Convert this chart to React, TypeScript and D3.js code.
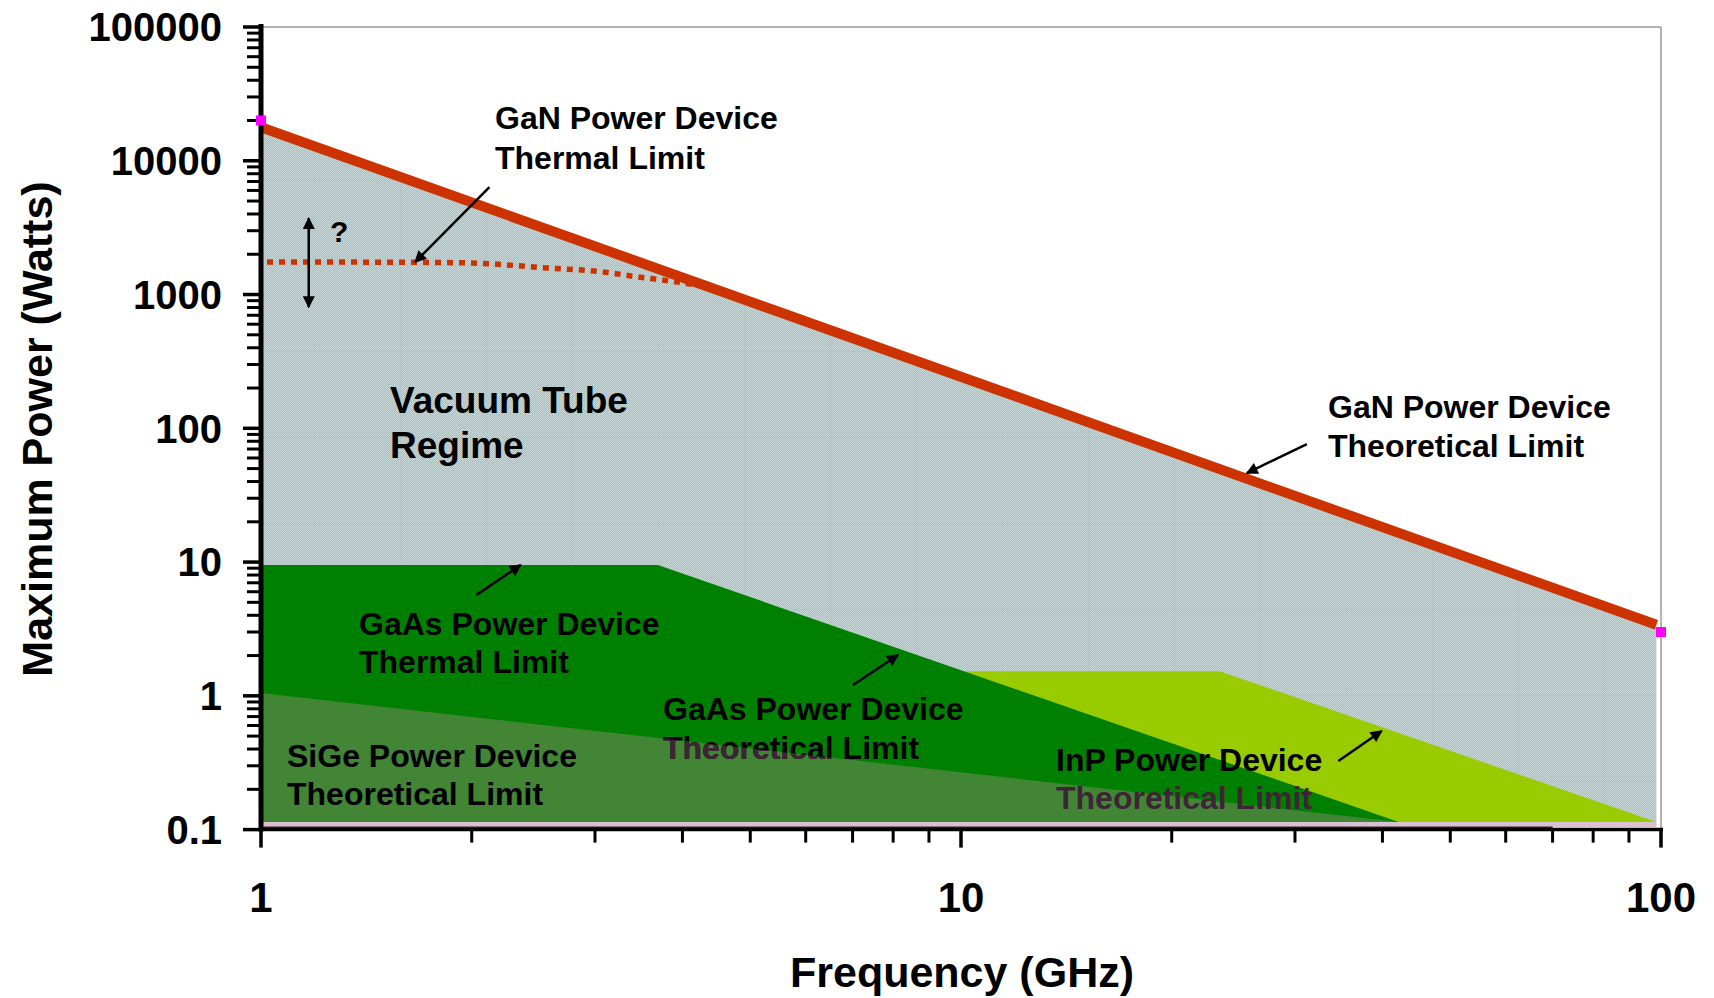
import React from 'react';
import * as d3 from 'd3';

// ---------- data (frequency in GHz, power in W) ----------
const ganTheoreticalF = [1, 98.5];
const ganTheoreticalP = [17800, 3.4];

const ganThermalF = [1.02, 1.3, 1.66, 2.0, 2.56, 3.1, 3.4, 3.94, 4.3];
const ganThermalP = [1750, 1748, 1742, 1720, 1580, 1470, 1370, 1240, 1150];

const gaasF = [1, 3.69, 42.2];
const gaasP = [9.5, 9.5, 0.114];

const inpF = [10, 23.4, 98.5];
const inpP = [1.53, 1.53, 0.114];

const sigeF = [1, 42.2];
const sigeP = [1.05, 0.114];

const floorP = 0.114;

const markerF = [1, 100];
const markerP = [20000, 3.0];

const yTickValues = [0.1, 1, 10, 100, 1000, 10000, 100000];
const yTickLabels = ['0.1', '1', '10', '100', '1000', '10000', '100000'];
const xTickValues = [1, 10, 100];
const xTickLabels = ['1', '10', '100'];

// annotation arrows: [fromF, fromP, toF, toP]
const arrowsData: number[][] = [
  [2.12, 6350, 1.66, 1746],
  [31.2, 76.2, 25.6, 46.2],
  [2.03, 5.66, 2.35, 9.5],
  [7.01, 1.204, 8.13, 2.02],
  [34.6, 0.326, 39.9, 0.546],
];
const doubleArrow = [1.17, 3725, 805];

// ---------- layout ----------
const W = 1714;
const H = 998;
const x = d3.scaleLog().domain([1, 100]).range([261, 1661]);
const y = d3.scaleLog().domain([0.1, 100000]).range([829.6, 27]);

const FONT = '"Liberation Sans", Arial, Helvetica, sans-serif';

type Lbl = { lines: string[]; x: number; y: number; size: number; lh: number; color2?: string; clip2?: boolean };
const labels: Lbl[] = [
  { lines: ['GaN Power Device', 'Thermal Limit'], x: 495, y: 129, size: 32, lh: 40 },
  { lines: ['GaN Power Device', 'Theoretical Limit'], x: 1328, y: 418, size: 32, lh: 39 },
  { lines: ['Vacuum Tube', 'Regime'], x: 390, y: 413, size: 37, lh: 45 },
  { lines: ['GaAs Power Device', 'Thermal Limit'], x: 359, y: 635, size: 32, lh: 38 },
  { lines: ['SiGe Power Device', 'Theoretical Limit'], x: 287, y: 767, size: 32, lh: 38 },
  { lines: ['GaAs Power Device', 'Theoretical Limit'], x: 663, y: 720, size: 32, lh: 39, clip2: true },
  { lines: ['InP Power Device', 'Theoretical Limit'], x: 1056, y: 771, size: 32, lh: 38, color2: '#3d2535' },
];

function polyPath(fs: number[], ps: number[], base: number) {
  const pts: [number, number][] = fs.map((f, i) => [x(f), y(ps[i])]);
  pts.push([x(fs[fs.length - 1]), y(base)]);
  pts.push([x(fs[0]), y(base)]);
  return 'M' + pts.map((p) => p.join(',')).join('L') + 'Z';
}

export default function App() {
  const grayPath = polyPath(ganTheoreticalF, ganTheoreticalP, floorP);
  const gaasPath = polyPath(gaasF, gaasP, floorP);
  const inpPath = polyPath(inpF, inpP, floorP);
  const sigePath = polyPath(sigeF, sigeP, floorP);

  const line = d3
    .line<[number, number]>()
    .x((d) => x(d[0]))
    .y((d) => y(d[1]));
  const ganLine = line(ganTheoreticalF.map((f, i) => [f, ganTheoreticalP[i]]) as [number, number][]) || '';
  const thermalLine =
    line.curve(d3.curveMonotoneX)(ganThermalF.map((f, i) => [f, ganThermalP[i]]) as [number, number][]) || '';

  const yMinor: number[] = [];
  [0.1, 1, 10, 100, 1000, 10000].forEach((d) => {
    for (let m = 2; m <= 9; m++) yMinor.push(d * m);
  });
  const xMinor: number[] = [];
  [1, 10].forEach((d) => {
    for (let m = 2; m <= 9; m++) xMinor.push(d * m);
  });

  const axisY = y(0.1);
  const axisX = x(1);

  return (
    <svg
      width={W}
      height={H}
      style={{ position: 'absolute', left: 0, top: 0, background: '#fff' }}
      fontFamily={FONT}
    >
      <defs>
        <pattern id="chk" width={2} height={2} patternUnits="userSpaceOnUse">
          <rect width={2} height={2} fill="#c6d5d5" />
          <rect width={1} height={1} fill="#a8c1c3" />
          <rect x={1} y={1} width={1} height={1} fill="#a8c1c3" />
        </pattern>
        <pattern id="grid" width={86} height={86} patternUnits="userSpaceOnUse" x={56} y={7}>
          <rect width={86} height={86} fill="url(#chk)" />
          <rect width={86} height={1} fill="#aebfbf" opacity={0.5} />
          <rect width={1} height={86} fill="#aebfbf" opacity={0.5} />
        </pattern>
        <pattern id="pink" width={2} height={2} patternUnits="userSpaceOnUse">
          <rect width={2} height={2} fill="#e0ccda" />
          <rect width={1} height={1} fill="#cdb6c6" />
          <rect x={1} y={1} width={1} height={1} fill="#cdb6c6" />
        </pattern>
        <clipPath id="sigeClip">
          <path d={sigePath} />
        </clipPath>
        <marker id="ah" viewBox="0 0 10 10" refX={9} refY={5} markerWidth={15} markerHeight={12} markerUnits="userSpaceOnUse" orient="auto-start-reverse">
          <path d="M0,0L10,5L0,10Z" fill="#000" />
        </marker>
      </defs>

      {/* plot frame (top & right) */}
      <line x1={axisX} x2={x(100)} y1={y(100000)} y2={y(100000)} stroke="#9a9a9a" strokeWidth={1.5} />
      <line x1={x(100)} x2={x(100)} y1={y(100000)} y2={axisY} stroke="#9a9a9a" strokeWidth={1.5} />

      {/* regions */}
      <path d={grayPath} fill="url(#grid)" />
      <rect x={x(1)} y={y(floorP)} width={x(98.5) - x(1)} height={axisY - 2.5 - y(floorP)} fill="url(#pink)" />
      <path d={inpPath} fill="#99cc00" />
      <path d={gaasPath} fill="#008000" />
      <path d={sigePath} fill="#418535" />
      <line x1={axisX} x2={x(70)} y1={axisY - 2} y2={axisY - 2} stroke="#3a1a2a" strokeWidth={2} />

      {/* GaN lines */}
      <path d={thermalLine} fill="none" stroke="#cc3300" strokeWidth={5.5} strokeDasharray="6 6" />
      <path d={ganLine} fill="none" stroke="#cc3300" strokeWidth={10} />

      {/* axes */}
      <line x1={axisX} x2={axisX} y1={y(100000) - 3} y2={axisY + 2} stroke="#000" strokeWidth={5} />
      <line x1={axisX - 2} x2={x(100) + 2} y1={axisY} y2={axisY} stroke="#000" strokeWidth={3.5} />
      {yTickValues.map((v) => (
        <line key={'ym' + v} x1={axisX - 18} x2={axisX} y1={y(v)} y2={y(v)} stroke="#000" strokeWidth={3.5} />
      ))}
      {yMinor.map((v) => (
        <line key={'yn' + v} x1={axisX - 14} x2={axisX} y1={y(v)} y2={y(v)} stroke="#000" strokeWidth={3} />
      ))}
      {xTickValues.map((v) => (
        <line key={'xm' + v} x1={x(v)} x2={x(v)} y1={axisY} y2={axisY + 18} stroke="#000" strokeWidth={3.5} />
      ))}
      {xMinor.map((v) => (
        <line key={'xn' + v} x1={x(v)} x2={x(v)} y1={axisY} y2={axisY + 13} stroke="#000" strokeWidth={3} />
      ))}
      {markerF.map((f, i) => (
        <rect key={'mk' + i} x={x(f) - 5} y={y(markerP[i]) - 5} width={10} height={10} fill="#ff00ff" />
      ))}
      {yTickValues.map((v, i) => (
        <text key={'yl' + v} x={222} y={y(v)} dy="0.36em" textAnchor="end" fontSize={40} fontWeight="bold">
          {yTickLabels[i]}
        </text>
      ))}
      {xTickValues.map((v, i) => (
        <text key={'xl' + v} x={x(v)} y={912} textAnchor="middle" fontSize={42} fontWeight="bold">
          {xTickLabels[i]}
        </text>
      ))}
      <text x={962} y={987} textAnchor="middle" fontSize={43} fontWeight="bold">
        Frequency (GHz)
      </text>
      <text transform="translate(52,429) rotate(-90)" textAnchor="middle" fontSize={43} fontWeight="bold">
        Maximum Power (Watts)
      </text>

      {/* arrows */}
      {arrowsData.map((a, i) => (
        <line key={'ar' + i} x1={x(a[0])} y1={y(a[1])} x2={x(a[2])} y2={y(a[3])} stroke="#000" strokeWidth={2.5} markerEnd="url(#ah)" />
      ))}
      <line
        x1={x(doubleArrow[0])}
        x2={x(doubleArrow[0])}
        y1={y(doubleArrow[1])}
        y2={y(doubleArrow[2])}
        stroke="#000"
        strokeWidth={2.5}
        markerStart="url(#ah)"
        markerEnd="url(#ah)"
      />
      <text x={330} y={242} fontSize={30} fontWeight="bold">?</text>

      {/* labels */}
      {labels.map((l, i) => (
        <g key={'lb' + i} fontSize={l.size} fontWeight="bold">
          {l.lines.map((t, j) => (
            <text key={j} x={l.x} y={l.y + j * l.lh} fill={j === 1 && l.color2 ? l.color2 : '#000'}>
              {t}
            </text>
          ))}
          {l.clip2 && (
            <text x={l.x} y={l.y + l.lh} fill="#3d2535" clipPath="url(#sigeClip)">
              {l.lines[1]}
            </text>
          )}
        </g>
      ))}
    </svg>
  );
}
